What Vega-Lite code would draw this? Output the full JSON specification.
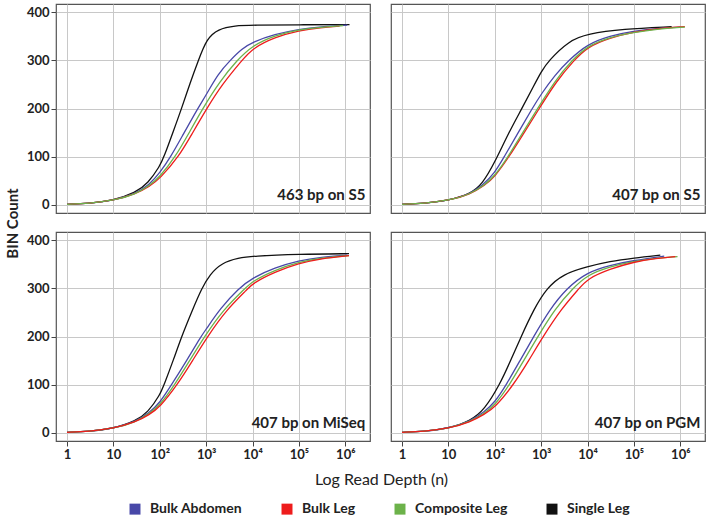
{
"$schema": "https://vega.github.io/schema/vega-lite/v6.json",
"padding": {"left": 4, "top": 3, "right": 2, "bottom": 4},
"bounds": "flush",
"data": {"values": [
{"panel":"463 bp on S5","series":"Single Leg","n":1,"bins":1},{"panel":"463 bp on S5","series":"Single Leg","n":3,"bins":3},{"panel":"463 bp on S5","series":"Single Leg","n":10,"bins":9},{"panel":"463 bp on S5","series":"Single Leg","n":30,"bins":25},{"panel":"463 bp on S5","series":"Single Leg","n":56,"bins":45},{"panel":"463 bp on S5","series":"Single Leg","n":100,"bins":80},{"panel":"463 bp on S5","series":"Single Leg","n":124,"bins":100},{"panel":"463 bp on S5","series":"Single Leg","n":200,"bins":155},{"panel":"463 bp on S5","series":"Single Leg","n":295,"bins":200},{"panel":"463 bp on S5","series":"Single Leg","n":450,"bins":253},{"panel":"463 bp on S5","series":"Single Leg","n":680,"bins":300},{"panel":"463 bp on S5","series":"Single Leg","n":1030,"bins":345},{"panel":"463 bp on S5","series":"Single Leg","n":1800,"bins":365},{"panel":"463 bp on S5","series":"Single Leg","n":4200,"bins":372},{"panel":"463 bp on S5","series":"Single Leg","n":10000,"bins":373},{"panel":"463 bp on S5","series":"Single Leg","n":100000,"bins":374},{"panel":"463 bp on S5","series":"Single Leg","n":1230000,"bins":374},
{"panel":"463 bp on S5","series":"Bulk Abdomen","n":1,"bins":1},{"panel":"463 bp on S5","series":"Bulk Abdomen","n":3,"bins":3},{"panel":"463 bp on S5","series":"Bulk Abdomen","n":10,"bins":9},{"panel":"463 bp on S5","series":"Bulk Abdomen","n":30,"bins":23},{"panel":"463 bp on S5","series":"Bulk Abdomen","n":60,"bins":42},{"panel":"463 bp on S5","series":"Bulk Abdomen","n":100,"bins":66},{"panel":"463 bp on S5","series":"Bulk Abdomen","n":173,"bins":100},{"panel":"463 bp on S5","series":"Bulk Abdomen","n":295,"bins":140},{"panel":"463 bp on S5","series":"Bulk Abdomen","n":655,"bins":200},{"panel":"463 bp on S5","series":"Bulk Abdomen","n":1000,"bins":228},{"panel":"463 bp on S5","series":"Bulk Abdomen","n":1800,"bins":272},{"panel":"463 bp on S5","series":"Bulk Abdomen","n":3300,"bins":300},{"panel":"463 bp on S5","series":"Bulk Abdomen","n":5900,"bins":324},{"panel":"463 bp on S5","series":"Bulk Abdomen","n":10000,"bins":338},{"panel":"463 bp on S5","series":"Bulk Abdomen","n":30000,"bins":354},{"panel":"463 bp on S5","series":"Bulk Abdomen","n":100000,"bins":365},{"panel":"463 bp on S5","series":"Bulk Abdomen","n":300000,"bins":370},{"panel":"463 bp on S5","series":"Bulk Abdomen","n":1100000,"bins":373},
{"panel":"463 bp on S5","series":"Bulk Leg","n":1,"bins":1},{"panel":"463 bp on S5","series":"Bulk Leg","n":3,"bins":3},{"panel":"463 bp on S5","series":"Bulk Leg","n":10,"bins":9},{"panel":"463 bp on S5","series":"Bulk Leg","n":30,"bins":22},{"panel":"463 bp on S5","series":"Bulk Leg","n":60,"bins":38},{"panel":"463 bp on S5","series":"Bulk Leg","n":100,"bins":54},{"panel":"463 bp on S5","series":"Bulk Leg","n":258,"bins":100},{"panel":"463 bp on S5","series":"Bulk Leg","n":500,"bins":148},{"panel":"463 bp on S5","series":"Bulk Leg","n":1030,"bins":200},{"panel":"463 bp on S5","series":"Bulk Leg","n":2200,"bins":250},{"panel":"463 bp on S5","series":"Bulk Leg","n":5900,"bins":300},{"panel":"463 bp on S5","series":"Bulk Leg","n":10000,"bins":325},{"panel":"463 bp on S5","series":"Bulk Leg","n":30000,"bins":348},{"panel":"463 bp on S5","series":"Bulk Leg","n":100000,"bins":362},{"panel":"463 bp on S5","series":"Bulk Leg","n":300000,"bins":368},{"panel":"463 bp on S5","series":"Bulk Leg","n":750000,"bins":371},
{"panel":"463 bp on S5","series":"Composite Leg","n":1,"bins":1},{"panel":"463 bp on S5","series":"Composite Leg","n":3,"bins":3},{"panel":"463 bp on S5","series":"Composite Leg","n":10,"bins":9},{"panel":"463 bp on S5","series":"Composite Leg","n":30,"bins":22},{"panel":"463 bp on S5","series":"Composite Leg","n":60,"bins":40},{"panel":"463 bp on S5","series":"Composite Leg","n":100,"bins":58},{"panel":"463 bp on S5","series":"Composite Leg","n":218,"bins":100},{"panel":"463 bp on S5","series":"Composite Leg","n":420,"bins":148},{"panel":"463 bp on S5","series":"Composite Leg","n":840,"bins":200},{"panel":"463 bp on S5","series":"Composite Leg","n":2000,"bins":257},{"panel":"463 bp on S5","series":"Composite Leg","n":4600,"bins":300},{"panel":"463 bp on S5","series":"Composite Leg","n":10000,"bins":331},{"panel":"463 bp on S5","series":"Composite Leg","n":30000,"bins":352},{"panel":"463 bp on S5","series":"Composite Leg","n":100000,"bins":364},{"panel":"463 bp on S5","series":"Composite Leg","n":300000,"bins":369},{"panel":"463 bp on S5","series":"Composite Leg","n":900000,"bins":372},
{"panel":"407 bp on S5","series":"Single Leg","n":1,"bins":1},{"panel":"407 bp on S5","series":"Single Leg","n":3,"bins":3},{"panel":"407 bp on S5","series":"Single Leg","n":10,"bins":9},{"panel":"407 bp on S5","series":"Single Leg","n":30,"bins":23},{"panel":"407 bp on S5","series":"Single Leg","n":54,"bins":43},{"panel":"407 bp on S5","series":"Single Leg","n":100,"bins":88},{"panel":"407 bp on S5","series":"Single Leg","n":200,"bins":150},{"panel":"407 bp on S5","series":"Single Leg","n":385,"bins":200},{"panel":"407 bp on S5","series":"Single Leg","n":700,"bins":248},{"panel":"407 bp on S5","series":"Single Leg","n":1000,"bins":276},{"panel":"407 bp on S5","series":"Single Leg","n":1400,"bins":298},{"panel":"407 bp on S5","series":"Single Leg","n":4000,"bins":341},{"panel":"407 bp on S5","series":"Single Leg","n":10000,"bins":355},{"panel":"407 bp on S5","series":"Single Leg","n":57000,"bins":365},{"panel":"407 bp on S5","series":"Single Leg","n":650000,"bins":370},
{"panel":"407 bp on S5","series":"Bulk Abdomen","n":1,"bins":1},{"panel":"407 bp on S5","series":"Bulk Abdomen","n":3,"bins":3},{"panel":"407 bp on S5","series":"Bulk Abdomen","n":10,"bins":9},{"panel":"407 bp on S5","series":"Bulk Abdomen","n":30,"bins":23},{"panel":"407 bp on S5","series":"Bulk Abdomen","n":54,"bins":40},{"panel":"407 bp on S5","series":"Bulk Abdomen","n":100,"bins":66},{"panel":"407 bp on S5","series":"Bulk Abdomen","n":160,"bins":100},{"panel":"407 bp on S5","series":"Bulk Abdomen","n":300,"bins":145},{"panel":"407 bp on S5","series":"Bulk Abdomen","n":640,"bins":200},{"panel":"407 bp on S5","series":"Bulk Abdomen","n":1000,"bins":230},{"panel":"407 bp on S5","series":"Bulk Abdomen","n":2000,"bins":270},{"panel":"407 bp on S5","series":"Bulk Abdomen","n":3900,"bins":300},{"panel":"407 bp on S5","series":"Bulk Abdomen","n":10000,"bins":334},{"panel":"407 bp on S5","series":"Bulk Abdomen","n":30000,"bins":351},{"panel":"407 bp on S5","series":"Bulk Abdomen","n":100000,"bins":361},{"panel":"407 bp on S5","series":"Bulk Abdomen","n":300000,"bins":366},{"panel":"407 bp on S5","series":"Bulk Abdomen","n":1000000,"bins":369},
{"panel":"407 bp on S5","series":"Bulk Leg","n":1,"bins":1},{"panel":"407 bp on S5","series":"Bulk Leg","n":3,"bins":3},{"panel":"407 bp on S5","series":"Bulk Leg","n":10,"bins":9},{"panel":"407 bp on S5","series":"Bulk Leg","n":30,"bins":22},{"panel":"407 bp on S5","series":"Bulk Leg","n":60,"bins":40},{"panel":"407 bp on S5","series":"Bulk Leg","n":100,"bins":58},{"panel":"407 bp on S5","series":"Bulk Leg","n":205,"bins":100},{"panel":"407 bp on S5","series":"Bulk Leg","n":430,"bins":150},{"panel":"407 bp on S5","series":"Bulk Leg","n":910,"bins":200},{"panel":"407 bp on S5","series":"Bulk Leg","n":2100,"bins":256},{"panel":"407 bp on S5","series":"Bulk Leg","n":5100,"bins":300},{"panel":"407 bp on S5","series":"Bulk Leg","n":10000,"bins":328},{"panel":"407 bp on S5","series":"Bulk Leg","n":30000,"bins":347},{"panel":"407 bp on S5","series":"Bulk Leg","n":100000,"bins":359},{"panel":"407 bp on S5","series":"Bulk Leg","n":300000,"bins":366},{"panel":"407 bp on S5","series":"Bulk Leg","n":1250000,"bins":370},
{"panel":"407 bp on S5","series":"Composite Leg","n":1,"bins":1},{"panel":"407 bp on S5","series":"Composite Leg","n":3,"bins":3},{"panel":"407 bp on S5","series":"Composite Leg","n":10,"bins":9},{"panel":"407 bp on S5","series":"Composite Leg","n":30,"bins":22},{"panel":"407 bp on S5","series":"Composite Leg","n":60,"bins":41},{"panel":"407 bp on S5","series":"Composite Leg","n":100,"bins":60},{"panel":"407 bp on S5","series":"Composite Leg","n":195,"bins":100},{"panel":"407 bp on S5","series":"Composite Leg","n":400,"bins":150},{"panel":"407 bp on S5","series":"Composite Leg","n":840,"bins":200},{"panel":"407 bp on S5","series":"Composite Leg","n":2000,"bins":258},{"panel":"407 bp on S5","series":"Composite Leg","n":4600,"bins":300},{"panel":"407 bp on S5","series":"Composite Leg","n":10000,"bins":330},{"panel":"407 bp on S5","series":"Composite Leg","n":30000,"bins":348},{"panel":"407 bp on S5","series":"Composite Leg","n":100000,"bins":358},{"panel":"407 bp on S5","series":"Composite Leg","n":300000,"bins":365},{"panel":"407 bp on S5","series":"Composite Leg","n":1250000,"bins":369},
{"panel":"407 bp on MiSeq","series":"Single Leg","n":1,"bins":1},{"panel":"407 bp on MiSeq","series":"Single Leg","n":3,"bins":3},{"panel":"407 bp on MiSeq","series":"Single Leg","n":10,"bins":9},{"panel":"407 bp on MiSeq","series":"Single Leg","n":30,"bins":24},{"panel":"407 bp on MiSeq","series":"Single Leg","n":56,"bins":43},{"panel":"407 bp on MiSeq","series":"Single Leg","n":100,"bins":78},{"panel":"407 bp on MiSeq","series":"Single Leg","n":124,"bins":100},{"panel":"407 bp on MiSeq","series":"Single Leg","n":200,"bins":153},{"panel":"407 bp on MiSeq","series":"Single Leg","n":295,"bins":200},{"panel":"407 bp on MiSeq","series":"Single Leg","n":500,"bins":254},{"panel":"407 bp on MiSeq","series":"Single Leg","n":800,"bins":300},{"panel":"407 bp on MiSeq","series":"Single Leg","n":1200,"bins":329},{"panel":"407 bp on MiSeq","series":"Single Leg","n":2170,"bins":353},{"panel":"407 bp on MiSeq","series":"Single Leg","n":5000,"bins":363},{"panel":"407 bp on MiSeq","series":"Single Leg","n":10000,"bins":367},{"panel":"407 bp on MiSeq","series":"Single Leg","n":100000,"bins":371},{"panel":"407 bp on MiSeq","series":"Single Leg","n":1200000,"bins":372},
{"panel":"407 bp on MiSeq","series":"Bulk Abdomen","n":1,"bins":1},{"panel":"407 bp on MiSeq","series":"Bulk Abdomen","n":3,"bins":3},{"panel":"407 bp on MiSeq","series":"Bulk Abdomen","n":10,"bins":9},{"panel":"407 bp on MiSeq","series":"Bulk Abdomen","n":30,"bins":23},{"panel":"407 bp on MiSeq","series":"Bulk Abdomen","n":60,"bins":42},{"panel":"407 bp on MiSeq","series":"Bulk Abdomen","n":100,"bins":62},{"panel":"407 bp on MiSeq","series":"Bulk Abdomen","n":180,"bins":100},{"panel":"407 bp on MiSeq","series":"Bulk Abdomen","n":380,"bins":150},{"panel":"407 bp on MiSeq","series":"Bulk Abdomen","n":770,"bins":200},{"panel":"407 bp on MiSeq","series":"Bulk Abdomen","n":1000,"bins":215},{"panel":"407 bp on MiSeq","series":"Bulk Abdomen","n":2000,"bins":258},{"panel":"407 bp on MiSeq","series":"Bulk Abdomen","n":5000,"bins":300},{"panel":"407 bp on MiSeq","series":"Bulk Abdomen","n":10000,"bins":322},{"panel":"407 bp on MiSeq","series":"Bulk Abdomen","n":30000,"bins":343},{"panel":"407 bp on MiSeq","series":"Bulk Abdomen","n":100000,"bins":358},{"panel":"407 bp on MiSeq","series":"Bulk Abdomen","n":300000,"bins":365},{"panel":"407 bp on MiSeq","series":"Bulk Abdomen","n":1100000,"bins":369},
{"panel":"407 bp on MiSeq","series":"Composite Leg","n":1,"bins":1},{"panel":"407 bp on MiSeq","series":"Composite Leg","n":3,"bins":3},{"panel":"407 bp on MiSeq","series":"Composite Leg","n":10,"bins":9},{"panel":"407 bp on MiSeq","series":"Composite Leg","n":30,"bins":22},{"panel":"407 bp on MiSeq","series":"Composite Leg","n":60,"bins":40},{"panel":"407 bp on MiSeq","series":"Composite Leg","n":100,"bins":57},{"panel":"407 bp on MiSeq","series":"Composite Leg","n":211,"bins":100},{"panel":"407 bp on MiSeq","series":"Composite Leg","n":440,"bins":150},{"panel":"407 bp on MiSeq","series":"Composite Leg","n":920,"bins":200},{"panel":"407 bp on MiSeq","series":"Composite Leg","n":2300,"bins":255},{"panel":"407 bp on MiSeq","series":"Composite Leg","n":6900,"bins":300},{"panel":"407 bp on MiSeq","series":"Composite Leg","n":10000,"bins":315},{"panel":"407 bp on MiSeq","series":"Composite Leg","n":30000,"bins":338},{"panel":"407 bp on MiSeq","series":"Composite Leg","n":100000,"bins":355},{"panel":"407 bp on MiSeq","series":"Composite Leg","n":300000,"bins":363},{"panel":"407 bp on MiSeq","series":"Composite Leg","n":1200000,"bins":368},
{"panel":"407 bp on MiSeq","series":"Bulk Leg","n":1,"bins":1},{"panel":"407 bp on MiSeq","series":"Bulk Leg","n":3,"bins":3},{"panel":"407 bp on MiSeq","series":"Bulk Leg","n":10,"bins":9},{"panel":"407 bp on MiSeq","series":"Bulk Leg","n":30,"bins":22},{"panel":"407 bp on MiSeq","series":"Bulk Leg","n":60,"bins":38},{"panel":"407 bp on MiSeq","series":"Bulk Leg","n":100,"bins":53},{"panel":"407 bp on MiSeq","series":"Bulk Leg","n":240,"bins":100},{"panel":"407 bp on MiSeq","series":"Bulk Leg","n":510,"bins":150},{"panel":"407 bp on MiSeq","series":"Bulk Leg","n":1070,"bins":200},{"panel":"407 bp on MiSeq","series":"Bulk Leg","n":2700,"bins":255},{"panel":"407 bp on MiSeq","series":"Bulk Leg","n":8100,"bins":300},{"panel":"407 bp on MiSeq","series":"Bulk Leg","n":10000,"bins":310},{"panel":"407 bp on MiSeq","series":"Bulk Leg","n":30000,"bins":334},{"panel":"407 bp on MiSeq","series":"Bulk Leg","n":100000,"bins":352},{"panel":"407 bp on MiSeq","series":"Bulk Leg","n":300000,"bins":362},{"panel":"407 bp on MiSeq","series":"Bulk Leg","n":1200000,"bins":368},
{"panel":"407 bp on PGM","series":"Single Leg","n":1,"bins":1},{"panel":"407 bp on PGM","series":"Single Leg","n":3,"bins":3},{"panel":"407 bp on PGM","series":"Single Leg","n":10,"bins":9},{"panel":"407 bp on PGM","series":"Single Leg","n":30,"bins":25},{"panel":"407 bp on PGM","series":"Single Leg","n":60,"bins":48},{"panel":"407 bp on PGM","series":"Single Leg","n":128,"bins":100},{"panel":"407 bp on PGM","series":"Single Leg","n":220,"bins":150},{"panel":"407 bp on PGM","series":"Single Leg","n":370,"bins":200},{"panel":"407 bp on PGM","series":"Single Leg","n":700,"bins":257},{"panel":"407 bp on PGM","series":"Single Leg","n":1300,"bins":300},{"panel":"407 bp on PGM","series":"Single Leg","n":3000,"bins":330},{"panel":"407 bp on PGM","series":"Single Leg","n":10000,"bins":345},{"panel":"407 bp on PGM","series":"Single Leg","n":30000,"bins":356},{"panel":"407 bp on PGM","series":"Single Leg","n":100000,"bins":363},{"panel":"407 bp on PGM","series":"Single Leg","n":370000,"bins":369},
{"panel":"407 bp on PGM","series":"Bulk Abdomen","n":1,"bins":1},{"panel":"407 bp on PGM","series":"Bulk Abdomen","n":3,"bins":3},{"panel":"407 bp on PGM","series":"Bulk Abdomen","n":10,"bins":9},{"panel":"407 bp on PGM","series":"Bulk Abdomen","n":30,"bins":24},{"panel":"407 bp on PGM","series":"Bulk Abdomen","n":60,"bins":44},{"panel":"407 bp on PGM","series":"Bulk Abdomen","n":100,"bins":63},{"panel":"407 bp on PGM","series":"Bulk Abdomen","n":178,"bins":100},{"panel":"407 bp on PGM","series":"Bulk Abdomen","n":350,"bins":150},{"panel":"407 bp on PGM","series":"Bulk Abdomen","n":690,"bins":200},{"panel":"407 bp on PGM","series":"Bulk Abdomen","n":1500,"bins":255},{"panel":"407 bp on PGM","series":"Bulk Abdomen","n":3500,"bins":300},{"panel":"407 bp on PGM","series":"Bulk Abdomen","n":10000,"bins":334},{"panel":"407 bp on PGM","series":"Bulk Abdomen","n":30000,"bins":348},{"panel":"407 bp on PGM","series":"Bulk Abdomen","n":100000,"bins":358},{"panel":"407 bp on PGM","series":"Bulk Abdomen","n":450000,"bins":367},
{"panel":"407 bp on PGM","series":"Composite Leg","n":1,"bins":1},{"panel":"407 bp on PGM","series":"Composite Leg","n":3,"bins":3},{"panel":"407 bp on PGM","series":"Composite Leg","n":10,"bins":9},{"panel":"407 bp on PGM","series":"Composite Leg","n":30,"bins":23},{"panel":"407 bp on PGM","series":"Composite Leg","n":60,"bins":41},{"panel":"407 bp on PGM","series":"Composite Leg","n":100,"bins":57},{"panel":"407 bp on PGM","series":"Composite Leg","n":210,"bins":100},{"panel":"407 bp on PGM","series":"Composite Leg","n":420,"bins":150},{"panel":"407 bp on PGM","series":"Composite Leg","n":850,"bins":200},{"panel":"407 bp on PGM","series":"Composite Leg","n":2000,"bins":258},{"panel":"407 bp on PGM","series":"Composite Leg","n":4800,"bins":300},{"panel":"407 bp on PGM","series":"Composite Leg","n":10000,"bins":328},{"panel":"407 bp on PGM","series":"Composite Leg","n":30000,"bins":345},{"panel":"407 bp on PGM","series":"Composite Leg","n":100000,"bins":356},{"panel":"407 bp on PGM","series":"Composite Leg","n":300000,"bins":363},{"panel":"407 bp on PGM","series":"Composite Leg","n":870000,"bins":366},
{"panel":"407 bp on PGM","series":"Bulk Leg","n":1,"bins":1},{"panel":"407 bp on PGM","series":"Bulk Leg","n":3,"bins":3},{"panel":"407 bp on PGM","series":"Bulk Leg","n":10,"bins":9},{"panel":"407 bp on PGM","series":"Bulk Leg","n":30,"bins":22},{"panel":"407 bp on PGM","series":"Bulk Leg","n":60,"bins":39},{"panel":"407 bp on PGM","series":"Bulk Leg","n":100,"bins":52},{"panel":"407 bp on PGM","series":"Bulk Leg","n":255,"bins":100},{"panel":"407 bp on PGM","series":"Bulk Leg","n":540,"bins":150},{"panel":"407 bp on PGM","series":"Bulk Leg","n":1100,"bins":200},{"panel":"407 bp on PGM","series":"Bulk Leg","n":2700,"bins":257},{"panel":"407 bp on PGM","series":"Bulk Leg","n":6600,"bins":300},{"panel":"407 bp on PGM","series":"Bulk Leg","n":10000,"bins":320},{"panel":"407 bp on PGM","series":"Bulk Leg","n":30000,"bins":340},{"panel":"407 bp on PGM","series":"Bulk Leg","n":100000,"bins":355},{"panel":"407 bp on PGM","series":"Bulk Leg","n":300000,"bins":362},{"panel":"407 bp on PGM","series":"Bulk Leg","n":780000,"bins":366}
]},
"columns": 2,
"spacing": {"row": 19, "column": 21},
"concat": [
  {"transform": [{"filter": {"field": "panel", "equal": "463 bp on S5"}}], "width": 314, "height": 209,
   "layer": [
    {"mark": {"type": "line", "strokeWidth": 1.3, "interpolate": "basis"},
     "encoding": {
      "x": {"field": "n", "type": "quantitative", "scale": {"type": "log", "domain": [0.58, 3400000], "nice": false}, "axis": {"values": [1, 10, 100, 1000, 10000, 100000, 1000000], "labels": false, "ticks": false, "title": null}},
      "y": {"field": "bins", "type": "quantitative", "scale": {"domain": [-17, 417], "nice": false}, "axis": {"values": [0, 100, 200, 300, 400], "title": "BIN Count", "titleY": 219, "titleFontWeight": "bold", "titleFontSize": 15, "titlePadding": 6}},
      "color": {"field": "series", "type": "nominal", "scale": {"domain": ["Bulk Abdomen", "Bulk Leg", "Composite Leg", "Single Leg"], "range": ["#4848a8", "#ee1c1c", "#6cb24a", "#111111"]}, "legend": {"title": null, "orient": "none", "legendX": 72, "legendY": 498, "direction": "horizontal", "symbolType": "square", "symbolSize": 30, "symbolStrokeWidth": 5.5, "labelFontSize": 14, "labelFontWeight": "bold", "labelFont": "Lato", "labelColor": "#222", "labelOffset": 8, "columnPadding": 30}}
     }},
    {"transform": [{"aggregate": [{"op": "count", "as": "k"}], "groupby": ["panel"]}],
     "mark": {"type": "text", "align": "right", "baseline": "middle", "fontSize": 15, "fontWeight": "bold", "font": "Lato", "color": "#222"},
     "encoding": {"x": {"datum": 2700000}, "y": {"datum": 21}, "text": {"field": "panel", "type": "nominal"}}}
   ]},
  {"transform": [{"filter": {"field": "panel", "equal": "407 bp on S5"}}], "width": 314, "height": 209,
   "layer": [
    {"mark": {"type": "line", "strokeWidth": 1.3, "interpolate": "basis"},
     "encoding": {
      "x": {"field": "n", "type": "quantitative", "scale": {"type": "log", "domain": [0.58, 3400000], "nice": false}, "axis": {"values": [1, 10, 100, 1000, 10000, 100000, 1000000], "labels": false, "ticks": false, "title": null}},
      "y": {"field": "bins", "type": "quantitative", "scale": {"domain": [-17, 417], "nice": false}, "axis": {"values": [0, 100, 200, 300, 400], "labels": false, "ticks": false, "title": null}},
      "color": {"field": "series", "type": "nominal", "scale": {"domain": ["Bulk Abdomen", "Bulk Leg", "Composite Leg", "Single Leg"], "range": ["#4848a8", "#ee1c1c", "#6cb24a", "#111111"]}}
     }},
    {"transform": [{"aggregate": [{"op": "count", "as": "k"}], "groupby": ["panel"]}],
     "mark": {"type": "text", "align": "right", "baseline": "middle", "fontSize": 15, "fontWeight": "bold", "font": "Lato", "color": "#222"},
     "encoding": {"x": {"datum": 2700000}, "y": {"datum": 21}, "text": {"field": "panel", "type": "nominal"}}}
   ]},
  {"transform": [{"filter": {"field": "panel", "equal": "407 bp on MiSeq"}}], "width": 314, "height": 209,
   "layer": [
    {"mark": {"type": "line", "strokeWidth": 1.3, "interpolate": "basis"},
     "encoding": {
      "x": {"field": "n", "type": "quantitative", "scale": {"type": "log", "domain": [0.58, 3400000], "nice": false}, "axis": {"values": [1, 10, 100, 1000, 10000, 100000, 1000000], "labelExpr": "['1','10','10²','10³','10⁴','10⁵','10⁶'][round(log(datum.value)/LN10)]", "title": "Log Read Depth (n)", "titleX": 325, "titleFontWeight": "normal", "titleFontSize": 16, "titlePadding": 10}},
      "y": {"field": "bins", "type": "quantitative", "scale": {"domain": [-17, 417], "nice": false}, "axis": {"values": [0, 100, 200, 300, 400], "title": null}},
      "color": {"field": "series", "type": "nominal", "scale": {"domain": ["Bulk Abdomen", "Bulk Leg", "Composite Leg", "Single Leg"], "range": ["#4848a8", "#ee1c1c", "#6cb24a", "#111111"]}}
     }},
    {"transform": [{"aggregate": [{"op": "count", "as": "k"}], "groupby": ["panel"]}],
     "mark": {"type": "text", "align": "right", "baseline": "middle", "fontSize": 15, "fontWeight": "bold", "font": "Lato", "color": "#222"},
     "encoding": {"x": {"datum": 2700000}, "y": {"datum": 21}, "text": {"field": "panel", "type": "nominal"}}}
   ]},
  {"transform": [{"filter": {"field": "panel", "equal": "407 bp on PGM"}}], "width": 314, "height": 209,
   "layer": [
    {"mark": {"type": "line", "strokeWidth": 1.3, "interpolate": "basis"},
     "encoding": {
      "x": {"field": "n", "type": "quantitative", "scale": {"type": "log", "domain": [0.58, 3400000], "nice": false}, "axis": {"values": [1, 10, 100, 1000, 10000, 100000, 1000000], "labelExpr": "['1','10','10²','10³','10⁴','10⁵','10⁶'][round(log(datum.value)/LN10)]", "title": null}},
      "y": {"field": "bins", "type": "quantitative", "scale": {"domain": [-17, 417], "nice": false}, "axis": {"values": [0, 100, 200, 300, 400], "labels": false, "ticks": false, "title": null}},
      "color": {"field": "series", "type": "nominal", "scale": {"domain": ["Bulk Abdomen", "Bulk Leg", "Composite Leg", "Single Leg"], "range": ["#4848a8", "#ee1c1c", "#6cb24a", "#111111"]}}
     }},
    {"transform": [{"aggregate": [{"op": "count", "as": "k"}], "groupby": ["panel"]}],
     "mark": {"type": "text", "align": "right", "baseline": "middle", "fontSize": 15, "fontWeight": "bold", "font": "Lato", "color": "#222"},
     "encoding": {"x": {"datum": 2700000}, "y": {"datum": 21}, "text": {"field": "panel", "type": "nominal"}}}
   ]}
],
"resolve": {"scale": {"color": "shared"}, "legend": {"color": "shared"}},
"config": {
  "view": {"stroke": "#555", "strokeWidth": 1.2},
  "axis": {"grid": true, "gridColor": "#c8c8c8", "gridWidth": 1, "domain": false, "tickColor": "#444", "tickSize": 5, "labelFont": "Lato", "labelFontSize": 13, "labelFontWeight": "bold", "labelColor": "#222", "labelPadding": 2, "titleFont": "Lato", "titleColor": "#222"}
}
}
